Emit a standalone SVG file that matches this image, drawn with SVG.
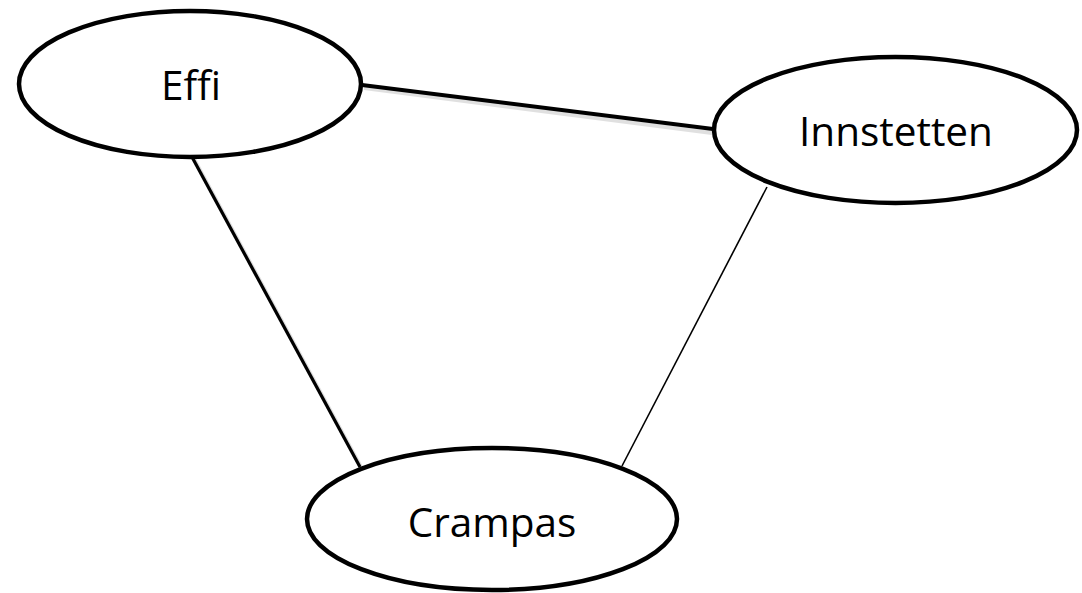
<svg xmlns="http://www.w3.org/2000/svg" width="1082" height="593" viewBox="0 0 1082 593">
  <style>
    .node ellipse { fill: #ffffff; stroke: #000000; stroke-width: 4.5; }
    .node text { font-family: "Open Sans", "Liberation Sans", sans-serif; font-size: 40.5px; fill: #000000; text-anchor: middle; }
    .edge { stroke: #000000; fill: none; stroke-linecap: butt; }
    .shadow { stroke: #000000; stroke-opacity: 0.12; fill: none; }
  </style>
  <rect width="1082" height="593" fill="#ffffff"/>
  <g id="connectors">
    <line class="shadow" x1="364" y1="88" x2="712" y2="133" stroke-width="4"/>
    <line class="shadow" x1="194" y1="159" x2="362" y2="469" stroke-width="4"/>
    <line class="edge" x1="362" y1="85" x2="713" y2="129" stroke-width="4"/>
    <line class="edge" x1="192" y1="157" x2="360" y2="467" stroke-width="3.2"/>
    <line class="edge" x1="767" y1="187" x2="622" y2="466" stroke-width="1.6"/>
  </g>
  <g id="node-effi" class="node">
    <ellipse cx="190" cy="84" rx="171" ry="73"/>
    <text x="191" y="100">Effi</text>
  </g>
  <g id="node-innstetten" class="node">
    <ellipse cx="895.5" cy="130" rx="181.5" ry="73"/>
    <text x="896" y="146">Innstetten</text>
  </g>
  <g id="node-crampas" class="node">
    <ellipse cx="492" cy="519" rx="185" ry="71"/>
    <text x="492" y="537">Crampas</text>
  </g>
</svg>
